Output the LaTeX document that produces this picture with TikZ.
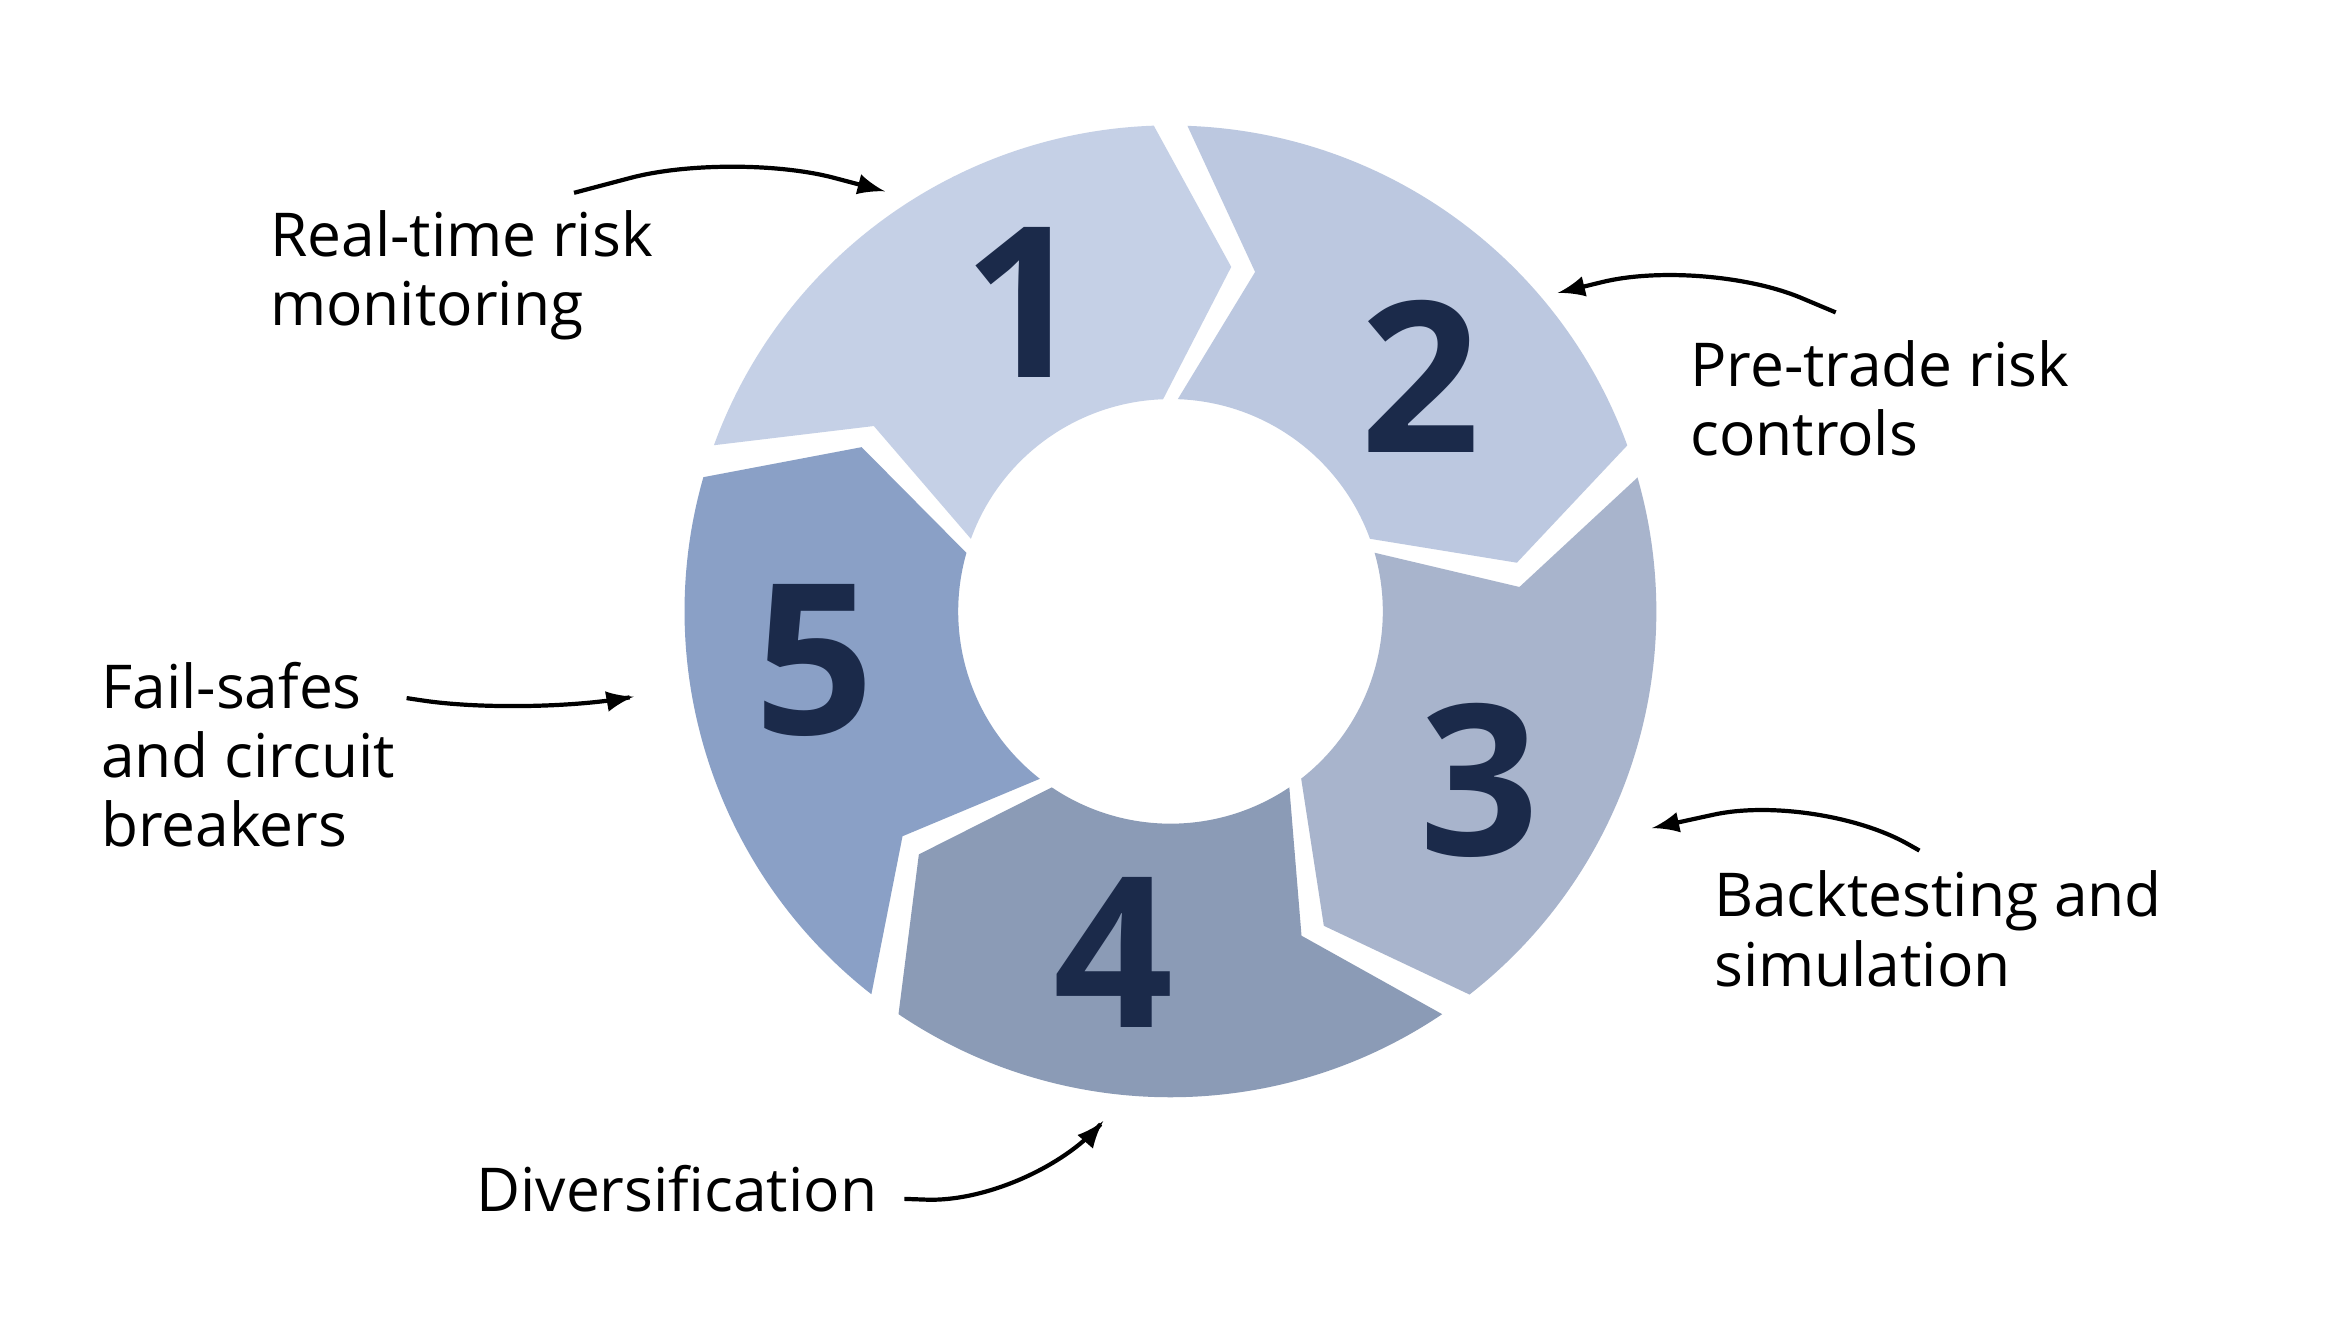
\documentclass[tikz,border=0pt]{standalone}
\usepackage{fontspec}
\setmainfont{Open Sans}
\usetikzlibrary{calc}
\definecolor{segA}{HTML}{C5D0E6}
\definecolor{segB}{HTML}{BCC8E0}
\definecolor{segC}{HTML}{A8B4CC}
\definecolor{segD}{HTML}{8B9BB6}
\definecolor{segE}{HTML}{8AA0C6}
\definecolor{navy}{HTML}{1B2A4A}
\tikzset{
  lbl/.style={anchor=north west, align=left, inner sep=0pt,
    font=\fontsize{11.5}{13.2}\selectfont},
  num/.style={text=navy, font=\fontsize{40}{40}\selectfont\bfseries\rmfamily},
  pointer/.style={-latex, thick, rounded corners=20}
}
\begin{document}
\begin{tikzpicture}[x=0.01cm, y=0.01cm]
    \useasboundingbox (0,0) rectangle (1560,897);
    \fill[white] (0,0) rectangle (1560,897);

    % ring of arrow segments
    \begin{scope}[shift={(783,488)}]
      \foreach \k/\col in {1/segA, 2/segB, 3/segC, 4/segD, 5/segE} {
        \pgfmathsetmacro{\s}{160-72*(\k-1)}
        \pgfmathsetmacro{\e}{\s-68}
        \fill[\col] (\s:325) arc[start angle=\s, end angle=\e, radius=3.25cm]
          -- (\e-12:234) -- (\e:142)
          arc[start angle=\e, end angle=\s, radius=1.42cm]
          -- (\s-12:234) -- cycle;
      }
    \end{scope}

    \node[num] (n1) at (685,695) {1};
    \node[num] (n2) at (950,645) {2};
    \node[num] (n3) at (990,375) {3};
    \node[num] (n4) at (745,260) {4};
    \node[num] (n5) at (545,455) {5};

    %%%% labels
    \node[lbl] (rt) at (180,757) {Real-time risk\\monitoring};
    \node[lbl] (pt) at (1130,670) {Pre-trade risk\\controls};
    \node[lbl] (bt) at (1146,315) {Backtesting and\\simulation};
    \node[lbl] (fs) at (67,455) {Fail-safes\\and circuit\\breakers};
    \node[lbl] (dv) at (318,118) {Diversification};

    %%%% pointers
    \coordinate (a1s) at (384,768); \coordinate (a1m) at (490,796); \coordinate (a1e) at (592,769);
    \coordinate (a2s) at (1228,688); \coordinate (a2m) at (1140,725); \coordinate (a2e) at (1042,701);
    \coordinate (a3s) at (1284,328); \coordinate (a3m) at (1215,367); \coordinate (a3e) at (1105,343);
    \coordinate (a4s) at (605,95); \coordinate (a4m) at (690,92); \coordinate (a4e) at (738,147);
    \coordinate (a5s) at (272,430); \coordinate (a5m) at (352,418); \coordinate (a5e) at (424,431);
    \foreach \i in {1,...,5}
      \draw[pointer] (a\i s) -- (a\i m) -- (a\i e);
\end{tikzpicture}
\end{document}
